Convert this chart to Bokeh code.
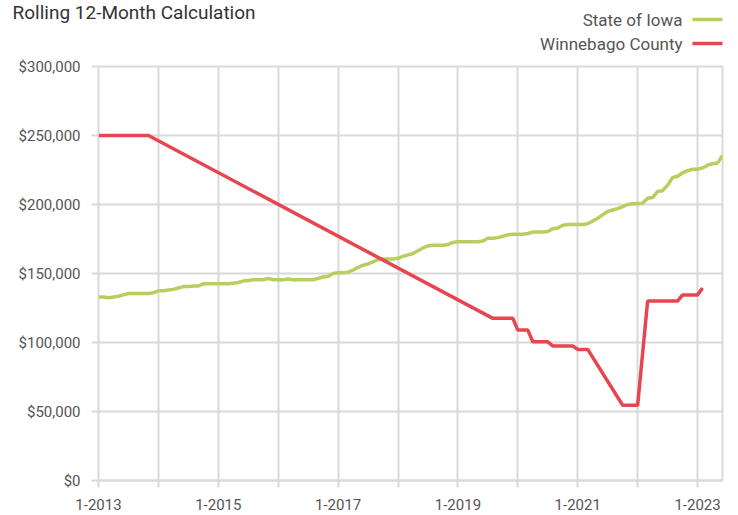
from bokeh.plotting import figure
from bokeh.layouts import column
from bokeh.models import Range1d, FixedTicker, NumeralTickFormatter
from bokeh.core.properties import value
from bokeh.embed import file_html
from bokeh.resources import INLINE

# ---- data ----
title_text = "Rolling 12-Month Calculation"
series_names = ["State of Iowa", "Winnebago County"]
tick_labels = ["1-2013", "1-2015", "1-2017", "1-2019", "1-2021", "1-2023"]

# State of Iowa: monthly values, Jan 2013 .. Jun 2023 (thousands of $)
iowa = [
    133, 133, 132.5, 133, 133.5, 134.5, 135.5, 135.5, 135.5, 135.5, 135.5, 136,
    137.5, 137.5, 138, 138.5, 139.5, 140.5, 140.5, 141, 141, 142.5, 142.5, 142.5,
    142.5, 142.5, 142.5, 143, 143.5, 144.5, 145, 145.5, 145.5, 145.5, 146.5, 145.5,
    145.5, 145.5, 146, 145.5, 145.5, 145.5, 145.5, 145.5, 146.5, 147.5, 148, 150,
    150.5, 150.5, 151, 152.5, 154.5, 156, 157, 158.5, 160, 160.5, 160.5, 160.5,
    161, 162.5, 163.5, 164.5, 166.5, 168.5, 170, 170.5, 170.5, 170.5, 171, 172.5,
    173, 173, 173, 173, 173, 173.5, 175.5, 175.5, 176, 177, 178, 178.5,
    178.5, 178.5, 179, 180, 180, 180, 180.5, 182.5, 183, 185, 185.5, 185.5,
    185.5, 185.5, 186, 188, 190, 192.5, 195, 196, 197, 198.5, 200, 200.5,
    200.5, 201, 204.5, 205, 209.5, 210, 214, 219.5, 220.5, 223, 224.5, 225.5,
    225.5, 226.5, 228.5, 229.5, 230, 235.5,
]
iowa_month = list(range(len(iowa)))

# Winnebago County: months (from Jan 2013) where the line changes, and values (thousands of $)
winn_month = [0, 10, 79, 83, 84, 86, 87, 90, 91, 95, 96, 98, 105, 108, 110, 116, 117, 120, 121]
winn = [250, 250, 117.5, 117.5, 109, 109, 100.5, 100.5, 97.5, 97.5, 95, 95,
        54.5, 54.5, 130, 130, 134.5, 134.5, 139.5]

tick_months = [0, 12, 24, 36, 48, 60, 72, 84, 96, 108, 120]
y_ticks = [0, 50000, 100000, 150000, 200000, 250000, 300000]

# ---- styling ----
GREEN = "#b6cf5e"
RED = "#e7454f"
GRID = "#d9d9d9"
TEXT = "#555555"
FONT = "Roboto"
W = 730
HEAD_H = 54

# ---- header: title and legend (pixel coordinates) ----
head = figure(width=W, height=HEAD_H, output_backend="svg", toolbar_location=None,
              x_range=Range1d(0, W), y_range=Range1d(HEAD_H, 0),
              min_border=0, x_axis_location=None, y_axis_location=None)
head.frame_align = False
head.outline_line_color = None
head.grid.visible = False
head.background_fill_color = "white"
head.border_fill_color = "white"
head.text(x=[12], y=[12], text=[title_text], text_font=value(FONT),
          text_font_size="19px", text_color="#333333",
          text_baseline="middle", text_align="left")
leg_y = [19, 43]
head.text(x=[682, 682], y=leg_y, text=series_names, text_font=value(FONT),
          text_font_size="17px", text_color=TEXT,
          text_baseline="middle", text_align="right")
head.segment(x0=[692, 692], y0=leg_y, x1=[722, 722], y1=leg_y,
             line_color=[GREEN, RED], line_width=3.5)

# ---- main chart ----
p = figure(width=W, height=515 - HEAD_H, output_backend="svg", toolbar_location=None,
           x_range=Range1d(0, 125), y_range=Range1d(0, 300000),
           min_border_left=98, min_border_right=8, min_border_top=12, min_border_bottom=35)
p.frame_align = False
p.outline_line_color = GRID
p.outline_line_width = 2
p.background_fill_color = "white"
p.border_fill_color = "white"

p.line(iowa_month, [v * 1000 for v in iowa], color=GREEN, line_width=3.5)
p.line(winn_month, [v * 1000 for v in winn], color=RED, line_width=3.5)

p.xaxis.ticker = FixedTicker(ticks=tick_months)
overrides = {}
for i, m in enumerate(tick_months):
    overrides[m] = tick_labels[i // 2] if i % 2 == 0 else ""
p.xaxis.major_label_overrides = overrides
p.xaxis.minor_tick_line_color = None
p.xaxis.major_tick_out = 7
p.xaxis.major_tick_in = 0
p.xaxis.major_tick_line_color = GRID
p.xaxis.major_tick_line_width = 2
p.xaxis.axis_line_color = GRID
p.xaxis.axis_line_width = 2
p.xaxis.major_label_standoff = 11
p.xaxis.major_label_text_font = FONT
p.xaxis.major_label_text_font_size = "15px"
p.xaxis.major_label_text_color = TEXT

p.yaxis.ticker = FixedTicker(ticks=y_ticks)
p.yaxis.formatter = NumeralTickFormatter(format="$0,0")
p.yaxis.minor_tick_line_color = None
p.yaxis.major_tick_out = 7
p.yaxis.major_tick_in = 0
p.yaxis.major_tick_line_color = GRID
p.yaxis.major_tick_line_width = 2
p.yaxis.axis_line_color = None
p.yaxis.major_label_standoff = 11
p.yaxis.major_label_text_font = FONT
p.yaxis.major_label_text_font_size = "15px"
p.yaxis.major_label_text_color = TEXT

p.xgrid.ticker = FixedTicker(ticks=tick_months)
p.xgrid.grid_line_color = GRID
p.xgrid.grid_line_width = 2
p.ygrid.ticker = FixedTicker(ticks=y_ticks)
p.ygrid.grid_line_color = GRID
p.ygrid.grid_line_width = 2

layout = column(head, p, spacing=0)
open("out.html", "w").write(file_html(layout, INLINE))
